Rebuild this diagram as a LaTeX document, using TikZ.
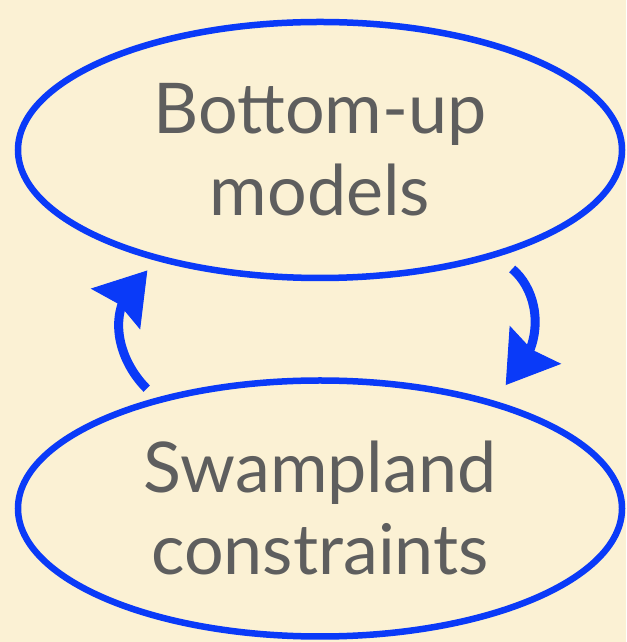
\documentclass[tikz,border=0pt]{standalone}
\usepackage{fontspec}
\setmainfont{Lato}
\usetikzlibrary{arrows.meta, bending, shapes.geometric}
\definecolor{paper}{HTML}{FBF1D4}
\definecolor{crayon}{HTML}{0A3AF8}
\definecolor{ink}{HTML}{5E5E5E}

\begin{document}
\begin{tikzpicture}[x=1pt, y=1pt,
    idea/.style={ellipse, draw=crayon, line width=6.5pt, minimum width=604pt, minimum height=256pt,
        inner sep=0pt, align=center, text=ink, font=\fontsize{70}{82}\selectfont},
    feedback/.style={draw=crayon, line width=9pt,
        -{Stealth[length=50pt, width=64pt, inset=6pt, line width=1pt, flex]}}
]
\path[use as bounding box, fill=paper] (0,0) rectangle (626,642);

\node[idea] (models) at (320,492) {Bottom-up\\models};
\node[idea] (swamp) at (320,133.5) {Swampland\\constraints};

\draw[feedback, shorten <=13pt, shorten >=16pt] (swamp.146) to[out=135, in=210, looseness=1.25] (models.215);
\draw[feedback, shorten <=19pt, shorten >=23pt] (models.329) to[out=-40, in=35, looseness=1.25] (swamp.33);

\end{tikzpicture}
\end{document}
